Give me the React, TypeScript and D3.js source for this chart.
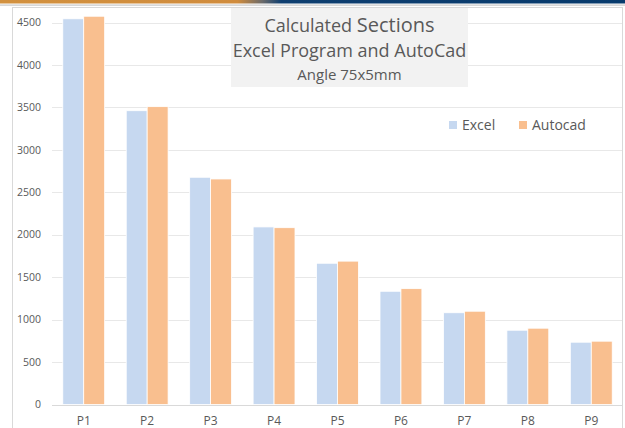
import React from "react";
import * as d3 from "d3";

const categories = ["P1", "P2", "P3", "P4", "P5", "P6", "P7", "P8", "P9"];
const seriesNames = ["Excel", "Autocad"];
const excelValues = [4545, 3462, 2678, 2093, 1665, 1335, 1082, 876, 735];
const autocadValues = [4575, 3510, 2658, 2084, 1690, 1366, 1100, 900, 747];
const yTicks = [0, 500, 1000, 1500, 2000, 2500, 3000, 3500, 4000, 4500];
const colors = ["#c6d8f0", "#f9bf8f"];

const W = 625;
const H = 428;
const FONT = "'Open Sans', 'Noto Sans', sans-serif";

export default function App() {
  const x0 = d3.scaleBand<string>().domain(categories).range([52, 623]).paddingInner(0.34).paddingOuter(0.17);
  const x1 = d3.scaleBand<string>().domain(seriesNames).range([0, x0.bandwidth()]);
  const y = d3.scaleLinear().domain([0, 4500]).range([404.6, 22.6]);
  const values = [excelValues, autocadValues];

  return (
    <svg width={W} height={H} style={{ position: "absolute", left: 0, top: 0, background: "#fff" }} fontFamily={FONT}>
      <defs>
        <linearGradient id="banner" x1="0" x2="1" y1="0" y2="0">
          <stop offset="0" stopColor="#d2913f" />
          <stop offset="0.38" stopColor="#d08c3d" />
          <stop offset="0.42" stopColor="#6a6a6a" />
          <stop offset="0.45" stopColor="#0f3f70" />
          <stop offset="1" stopColor="#073a6c" />
        </linearGradient>
      </defs>
      <rect x={0} y={0} width={W} height={3.5} fill="url(#banner)" />
      <rect x={0} y={4.5} width={W} height={1.2} fill="#c8c8c8" />
      {/* chart border */}
      <rect x={12.5} y={7.5} width={610} height={H} fill="#fff" stroke="#d9d9d9" strokeWidth={1} />

      {/* gridlines */}
      {yTicks.map((t) => (
        <line key={t} x1={52} x2={622} y1={Math.round(y(t)) + 0.5} y2={Math.round(y(t)) + 0.5} stroke={t === 0 ? "#d9d9d9" : "#e8e8e8"} strokeWidth={1} />
      ))}
      {yTicks.map((t) => (
        <text key={"l" + t} x={41} y={y(t)} dy="0.35em" textAnchor="end" fontSize={10.5} fill="#595959">
          {t}
        </text>
      ))}

      {/* bars */}
      {categories.map((c, i) => (
        <g key={c} transform={`translate(${x0(c)},0)`}>
          {seriesNames.map((s, j) => (
            <rect
              key={s}
              x={x1(s)}
              y={y(values[j][i])}
              width={x1.bandwidth()}
              height={y(0) - y(values[j][i])}
              fill={colors[j]}
              stroke="#ffffff"
              strokeWidth={0.8}
            />
          ))}
        </g>
      ))}

      {categories.map((c) => (
        <text key={"x" + c} x={(x0(c) as number) + x0.bandwidth() / 2} y={425} fontSize={12} textAnchor="middle" fill="#595959">
          {c}
        </text>
      ))}

      {/* title box */}
      <rect x={231} y={8} width={237} height={79} fill="#f2f2f2" />
      <text x={349.5} y={32} textAnchor="middle" fill="#595959">
        <tspan fontSize={18}>Calculated </tspan>
        <tspan fontSize={20}>Sections</tspan>
      </text>
      <text x={349.5} y={57} textAnchor="middle" fontSize={18} fill="#595959">
        Excel Program and AutoCad
      </text>
      <text x={349.5} y={80} textAnchor="middle" fontSize={15} fill="#595959">
        Angle 75x5mm
      </text>

      {/* legend */}
      {seriesNames.map((s, j) => {
        const lx = [449, 519][j];
        return (
          <g key={"lg" + s}>
            <rect x={lx} y={121} width={8} height={8} fill={colors[j]} />
            <text x={lx + 13} y={125} dy="0.35em" fontSize={14} fill="#595959">
              {s}
            </text>
          </g>
        );
      })}
    </svg>
  );
}
